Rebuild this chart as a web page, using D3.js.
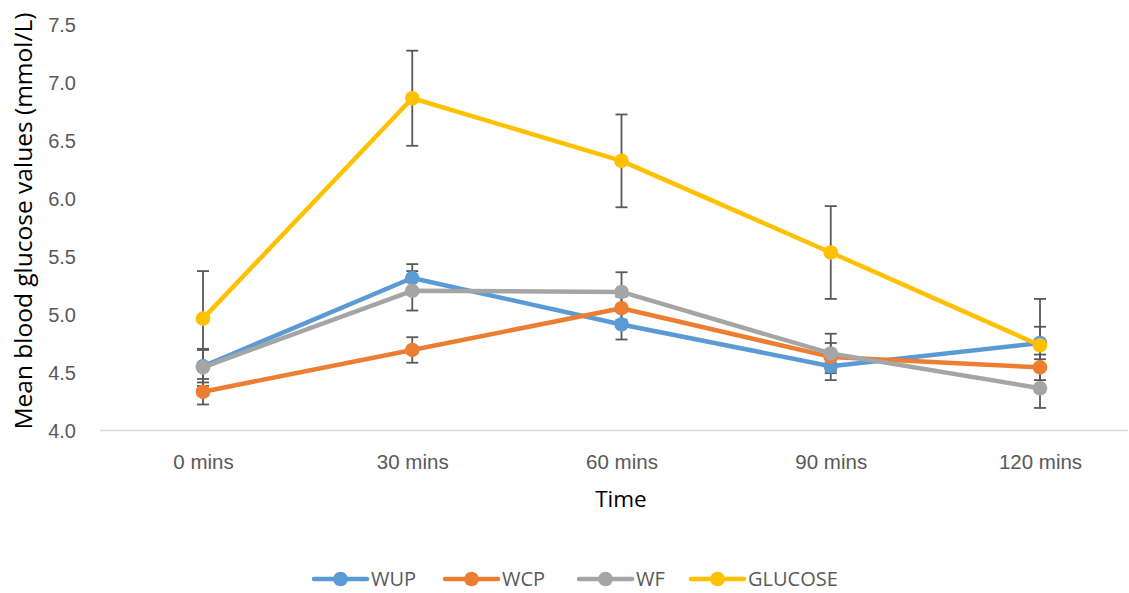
<!DOCTYPE html>
<html><head><meta charset="utf-8">
<script src="https://cdn.jsdelivr.net/npm/d3@7"></script>
<style>body{margin:0;background:#fff;} svg{display:block;font-family:"Open Sans","Liberation Sans",sans-serif;}</style>
</head><body>
<svg id="c" width="1129" height="593"></svg>
<script>
const categories = ["0 mins","30 mins","60 mins","90 mins","120 mins"];
const seriesNames = ["WUP","WCP","WF","GLUCOSE"];
const seriesColors = ["#5B9BD5","#ED7D31","#A5A5A5","#FFC000"];
const wupValues = [4.55, 5.31, 4.91, 4.55, 4.75];
const wupErrors = [0.14, 0.12, 0.13, 0.12, 0.14];
const wcpValues = [4.33, 4.69, 5.05, 4.63, 4.54];
const wcpErrors = [0.11, 0.11, 0.10, 0.12, 0.11];
const wfValues = [4.54, 5.20, 5.19, 4.66, 4.36];
const wfErrors = [0.16, 0.17, 0.17, 0.17, 0.17];
const glucoseValues = [4.96, 6.86, 6.32, 5.53, 4.73];
const glucoseErrors = [0.41, 0.41, 0.40, 0.40, 0.40];
const yTicks = [4.0, 4.5, 5.0, 5.5, 6.0, 6.5, 7.0, 7.5];

const seriesValues = [wupValues, wcpValues, wfValues, glucoseValues];
const seriesErrors = [wupErrors, wcpErrors, wfErrors, glucoseErrors];

const svg = d3.select("#c");
const x = d3.scalePoint().domain(categories).range([203, 1040]);
const y = d3.scaleLinear().domain([4.0, 7.5]).range([430, 24]);

// y tick labels
const yAxis = d3.axisLeft(y).tickValues(yTicks).tickFormat(d3.format(".1f")).tickSize(0).tickPadding(0);
const yg = svg.append("g").attr("transform","translate(76,0)").call(yAxis);
yg.select(".domain").remove();
yg.selectAll("text").attr("fill","#595959").style("font-size","20px").attr("dy","0.36em");

// x axis
const xAxis = d3.axisBottom(x).tickSize(0).tickPadding(0);
const xg = svg.append("g").attr("transform","translate(0,430)").call(xAxis);
xg.select(".domain").remove();
xg.selectAll("text").attr("fill","#595959").style("font-size","20.5px").attr("dy","0").attr("y",39);
svg.append("line").attr("x1",100).attr("x2",1128).attr("y1",430.5).attr("y2",430.5).attr("stroke","#D9D9D9").attr("stroke-width",1.3);

// axis titles
svg.append("text").attr("x",621).attr("y",507).attr("text-anchor","middle").style("font-size","22.5px").attr("fill","#000").text("Time");
svg.append("text").attr("transform","translate(32,221) rotate(-90)").attr("text-anchor","middle").style("font-size","24.5px").attr("fill","#000").text("Mean blood glucose values (mmol/L)");

// error bars
seriesNames.forEach((name,i)=>{
  const g = svg.append("g");
  categories.forEach((c,j)=>{
    const v = seriesValues[i][j], e = seriesErrors[i][j];
    const cx = x(c);
    g.append("line").attr("x1",cx).attr("x2",cx).attr("y1",y(v+e)).attr("y2",y(v-e)).attr("stroke","#595959").attr("stroke-width",1.8);
    [v+e, v-e].forEach(t=>{
      g.append("line").attr("x1",cx-6).attr("x2",cx+6).attr("y1",y(t)).attr("y2",y(t)).attr("stroke","#595959").attr("stroke-width",1.8);
    });
  });
});

// lines and markers
const line = d3.line().x((d,j)=>x(categories[j])).y(d=>y(d));
seriesNames.forEach((name,i)=>{
  const g = svg.append("g");
  g.append("path").datum(seriesValues[i]).attr("d",line).attr("fill","none").attr("stroke",seriesColors[i]).attr("stroke-width",4.5).attr("stroke-linejoin","round").attr("stroke-linecap","round");
  g.selectAll("circle").data(seriesValues[i]).enter().append("circle")
    .attr("cx",(d,j)=>x(categories[j])).attr("cy",d=>y(d)).attr("r",7.3).attr("fill",seriesColors[i]);
});

// legend
const legendX = [314, 445, 579, 691];
const lg = svg.append("g");
seriesNames.forEach((name,i)=>{
  const lx = legendX[i];
  lg.append("line").attr("x1",lx).attr("x2",lx+53).attr("y1",579).attr("y2",579).attr("stroke",seriesColors[i]).attr("stroke-width",4.5).attr("stroke-linecap","round");
  lg.append("circle").attr("cx",lx+26.5).attr("cy",579).attr("r",7.3).attr("fill",seriesColors[i]);
  lg.append("text").attr("x",lx+57).attr("y",586).style("font-size","20px").attr("fill","#595959").text(name);
});
</script>
</body></html>
